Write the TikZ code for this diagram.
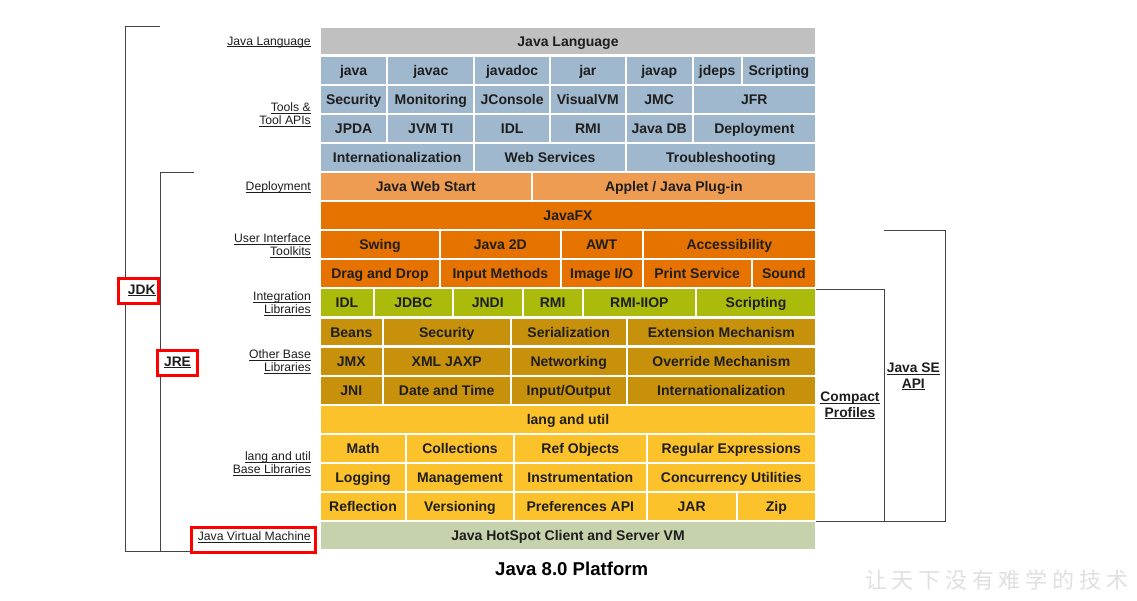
\documentclass[tikz,border=0pt]{standalone}
\usepackage{fontspec}
\setmainfont{Liberation Sans}
\newfontfamily\cjkfont{Noto Sans CJK SC}
\definecolor{cgray}{HTML}{C0C0C0}
\definecolor{cblue}{HTML}{A0B8CE}
\definecolor{cdeploy}{HTML}{EE9C52}
\definecolor{corange}{HTML}{E67200}
\definecolor{cgreen}{HTML}{AABB0C}
\definecolor{cgold}{HTML}{C8910C}
\definecolor{cyellow}{HTML}{FCC22C}
\definecolor{csage}{HTML}{C6D2AB}
\definecolor{ctext}{HTML}{1E1E1E}
\definecolor{cline}{HTML}{444444}
\definecolor{cwater}{HTML}{E0E0E0}
\newcommand\myul[1]{\setbox0\hbox{#1}\rlap{\rule[-1.8pt]{\wd0}{0.8pt}}\box0}
\newcommand\jcell[6]{%
  \pgfmathsetmacro\jcw{#3-#2-1.8}%
  \pgfmathsetmacro\jcx{(#2+#3)/2}%
  \pgfmathsetmacro\jcy{27.5+29.1*#4+13.5}%
  \node[cellbox,fill=#5,minimum width=\jcw pt] (#1) at (\jcx,\jcy) {#6};%
}
\tikzset{
  cellbox/.style={inner sep=0pt,minimum height=26.9pt,text height=10pt,text depth=0pt,
    font=\fontsize{14}{16}\selectfont\bfseries,text=ctext},
  sidelabel/.style={anchor=east,inner sep=0pt,align=right,text=ctext,
    font=\fontsize{12.2}{12.7}\selectfont},
  boldlabel/.style={inner sep=0pt,align=center,text=ctext,
    font=\fontsize{13.8}{15.3}\selectfont\bfseries},
  bracket/.style={draw=cline,line width=1pt},
  redbox/.style={draw=red,line width=3pt,fill=white}
}
\begin{document}
\begin{tikzpicture}[x=1pt,y=-1pt]
\fill[white] (0,0) rectangle (1137,600);
\useasboundingbox (0,0) rectangle (1137,600);
% ---------- grid ----------
\jcell{jl}{320}{816}{0}{cgray}{Java Language}
\jcell{tjava}{320}{387.3}{1}{cblue}{java}
\jcell{tjavac}{387.3}{474.3}{1}{cblue}{javac}
\jcell{tjavadoc}{474.3}{550}{1}{cblue}{javadoc}
\jcell{tjar}{550}{625.7}{1}{cblue}{jar}
\jcell{tjavap}{625.7}{692.7}{1}{cblue}{javap}
\jcell{tjdeps}{692.7}{741.7}{1}{cblue}{jdeps}
\jcell{tscript}{741.7}{816}{1}{cblue}{Scripting}
\jcell{tsec}{320}{387.3}{2}{cblue}{Security}
\jcell{tmon}{387.3}{474.3}{2}{cblue}{Monitoring}
\jcell{tjcon}{474.3}{550}{2}{cblue}{JConsole}
\jcell{tvvm}{550}{625.7}{2}{cblue}{VisualVM}
\jcell{tjmc}{625.7}{692.7}{2}{cblue}{JMC}
\jcell{tjfr}{692.7}{816}{2}{cblue}{JFR}
\jcell{tjpda}{320}{387.3}{3}{cblue}{JPDA}
\jcell{tjvmti}{387.3}{474.3}{3}{cblue}{JVM TI}
\jcell{tidl}{474.3}{550}{3}{cblue}{IDL}
\jcell{trmi}{550}{625.7}{3}{cblue}{RMI}
\jcell{tjdb}{625.7}{692.7}{3}{cblue}{Java DB}
\jcell{tdepl}{692.7}{816}{3}{cblue}{Deployment}
\jcell{tintl}{320}{474.3}{4}{cblue}{Internationalization}
\jcell{tws}{474.3}{625.7}{4}{cblue}{Web Services}
\jcell{ttrouble}{625.7}{816}{4}{cblue}{Troubleshooting}
\jcell{dws}{320}{531.7}{5}{cdeploy}{Java Web Start}
\jcell{dapplet}{531.7}{816}{5}{cdeploy}{Applet / Java Plug-in}
\jcell{ufx}{320}{816}{6}{corange}{JavaFX}
\jcell{uswing}{320}{440}{7}{corange}{Swing}
\jcell{u2d}{440}{560.7}{7}{corange}{Java 2D}
\jcell{uawt}{560.7}{642.7}{7}{corange}{AWT}
\jcell{uacc}{642.7}{816}{7}{corange}{Accessibility}
\jcell{udnd}{320}{440}{8}{corange}{Drag and Drop}
\jcell{uim}{440}{560.7}{8}{corange}{Input Methods}
\jcell{uimg}{560.7}{642.7}{8}{corange}{Image I/O}
\jcell{ups}{642.7}{751.7}{8}{corange}{Print Service}
\jcell{usnd}{751.7}{816}{8}{corange}{Sound}
\jcell{iidl}{320}{374}{9}{cgreen}{IDL}
\jcell{ijdbc}{374}{452.7}{9}{cgreen}{JDBC}
\jcell{ijndi}{452.7}{522.7}{9}{cgreen}{JNDI}
\jcell{irmi}{522.7}{582.7}{9}{cgreen}{RMI}
\jcell{iiiop}{582.7}{696}{9}{cgreen}{RMI-IIOP}
\jcell{iscript}{696}{816}{9}{cgreen}{Scripting}
\jcell{obeans}{320}{382.7}{10}{cgold}{Beans}
\jcell{osec}{382.7}{510.7}{10}{cgold}{Security}
\jcell{oser}{510.7}{626.7}{10}{cgold}{Serialization}
\jcell{oext}{626.7}{816}{10}{cgold}{Extension Mechanism}
\jcell{ojmx}{320}{382.7}{11}{cgold}{JMX}
\jcell{oxml}{382.7}{510.7}{11}{cgold}{XML JAXP}
\jcell{onet}{510.7}{626.7}{11}{cgold}{Networking}
\jcell{oover}{626.7}{816}{11}{cgold}{Override Mechanism}
\jcell{ojni}{320}{382.7}{12}{cgold}{JNI}
\jcell{odate}{382.7}{510.7}{12}{cgold}{Date and Time}
\jcell{oio}{510.7}{626.7}{12}{cgold}{Input/Output}
\jcell{ointl}{626.7}{816}{12}{cgold}{Internationalization}
\jcell{llu}{320}{816}{13}{cyellow}{lang and util}
\jcell{lmath}{320}{406}{14}{cyellow}{Math}
\jcell{lcoll}{406}{514}{14}{cyellow}{Collections}
\jcell{lref}{514}{646.7}{14}{cyellow}{Ref Objects}
\jcell{lregex}{646.7}{816}{14}{cyellow}{Regular Expressions}
\jcell{llog}{320}{406}{15}{cyellow}{Logging}
\jcell{lmgmt}{406}{514}{15}{cyellow}{Management}
\jcell{linst}{514}{646.7}{15}{cyellow}{Instrumentation}
\jcell{lconc}{646.7}{816}{15}{cyellow}{Concurrency Utilities}
\jcell{lrefl}{320}{406}{16}{cyellow}{Reflection}
\jcell{lver}{406}{514}{16}{cyellow}{Versioning}
\jcell{lpref}{514}{646.7}{16}{cyellow}{Preferences API}
\jcell{ljar}{646.7}{736.7}{16}{cyellow}{JAR}
\jcell{lzip}{736.7}{816}{16}{cyellow}{Zip}
\jcell{vm}{320}{816}{17}{csage}{Java HotSpot Client and Server VM}
% ---------- left labels ----------
\node[sidelabel] (ljl) at (311,42.5) {\myul{Java Language}};
\node[sidelabel] (ltools) at (311,114.8) {\myul{Tools \&}\\\myul{Tool APIs}};
\node[sidelabel] (ldepl) at (311,187.5) {\myul{Deployment}};
\node[sidelabel] (lui) at (311,245.8) {\myul{User Interface}\\\myul{Toolkits}};
\node[sidelabel] (lint) at (311,303.8) {\myul{Integration}\\\myul{Libraries}};
\node[sidelabel] (lother) at (311,361.8) {\myul{Other Base}\\\myul{Libraries}};
\node[sidelabel] (llang) at (311,463.8) {\myul{lang and util}\\\myul{Base Libraries}};
% ---------- left brackets ----------
\coordinate (jdkT) at (160,26.7);
\coordinate (jdkTL) at (125.7,26.7);
\coordinate (jdkBL) at (125.7,551);
\coordinate (jreT) at (194,172.7);
\coordinate (jreTL) at (160.3,172.7);
\coordinate (jreBL) at (160.3,551);
\coordinate (botR) at (192,551);
\draw[bracket] (jdkT) -- (jdkTL) -- (jdkBL) -- (botR);
\draw[bracket] (jreT) -- (jreTL) -- (jreBL);
% ---------- red boxes ----------
\coordinate (jdkA) at (118.5,278.2);
\coordinate (jdkB) at (158.5,303.5);
\coordinate (jreA) at (157.5,350.8);
\coordinate (jreB) at (197.8,375.8);
\coordinate (jvmA) at (191.5,527.5);
\coordinate (jvmB) at (315.5,552);
\draw[redbox] (jdkA) rectangle (jdkB);
\draw[redbox] (jreA) rectangle (jreB);
\draw[redbox] (jvmA) rectangle (jvmB);
\node[boldlabel] (jdk) at (141.7,290.5) {\myul{JDK}};
\node[boldlabel] (jre) at (177.5,362.5) {\myul{JRE}};
\node[sidelabel] (ljvm) at (311,537) {\myul{Java Virtual Machine}};
% ---------- right brackets ----------
\coordinate (cpT) at (816,289);
\coordinate (cpTR) at (884,289);
\coordinate (cpBR) at (884,521.7);
\coordinate (seT) at (884,230.7);
\coordinate (seTR) at (945,230.7);
\coordinate (seBR) at (945,521.7);
\coordinate (botL) at (816,521.7);
\draw[bracket] (cpT) -- (cpTR) -- (cpBR);
\draw[bracket] (seT) -- (seTR) -- (seBR) -- (botL);
\node[boldlabel] (cprof) at (850,405.5) {\myul{Compact}\\\myul{Profiles}};
\node[boldlabel] (seapi) at (913.3,376.5) {\myul{Java SE}\\\myul{API}};
% ---------- title & watermark ----------
\node[anchor=base,inner sep=0pt,text=black,font=\fontsize{18.6}{20}\selectfont\bfseries] (title) at (571.7,575) {Java 8.0 Platform};
\node[inner sep=0pt,text=cwater,font=\fontsize{22}{24}\selectfont\cjkfont] (water) at (996.5,580)
  {\hbox to 263pt{让\hfill 天\hfill 下\hfill 没\hfill 有\hfill 难\hfill 学\hfill 的\hfill 技\hfill 术}};
\end{tikzpicture}
\end{document}
